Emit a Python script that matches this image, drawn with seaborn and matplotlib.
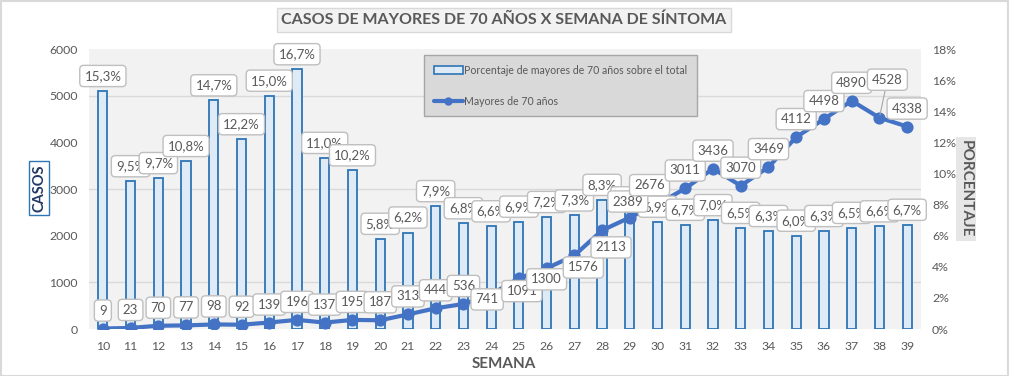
import numpy as np
import pandas as pd
import matplotlib
matplotlib.use("Agg")
import matplotlib.pyplot as plt
import seaborn as sns
from matplotlib.patches import Rectangle, Patch
from matplotlib.lines import Line2D
from matplotlib.ticker import MultipleLocator, FuncFormatter

# ---- data ----
weeks = list(range(10, 40))
cases = [9, 23, 70, 77, 98, 92, 139, 196, 137, 195,
         187, 313, 444, 536, 741, 1091, 1300, 1576, 2113, 2389,
         2676, 3011, 3436, 3070, 3469, 4112, 4498, 4890, 4528, 4338]
pct = [15.3, 9.5, 9.7, 10.8, 14.7, 12.2, 15.0, 16.7, 11.0, 10.2,
       5.8, 6.2, 7.9, 6.8, 6.6, 6.9, 7.2, 7.3, 8.3, 7.5,
       6.9, 6.7, 7.0, 6.5, 6.3, 6.0, 6.3, 6.5, 6.6, 6.7]
left_ticks = [0, 1000, 2000, 3000, 4000, 5000, 6000]
right_ticks = [0, 2, 4, 6, 8, 10, 12, 14, 16, 18]

title = "CASOS DE MAYORES DE 70 AÑOS X SEMANA DE SÍNTOMA"
bar_name = "Porcentaje de mayores de 70 años sobre el total"
line_name = "Mayores de 70 años"

df = pd.DataFrame({"semana": [str(w) for w in weeks], "casos": cases, "pct": pct})

# label offsets (pixels) for the line labels
line_off = {14: (-4, -5), 15: (3, -13), 16: (0, -11), 17: (9, -12), 18: (9, -17),
            19: (-2, 16), 20: (-8, 19), 28: (8, 38)}

sns.set_theme(style="white")
plt.rcParams["font.family"] = ["Lato", "DejaVu Sans"]

W, H = 1009, 376
fig = plt.figure(figsize=(W / 100, H / 100), dpi=100)
fig.patch.set_facecolor("white")
fig.add_artist(Rectangle((0.5 / W, 0.5 / H), 1 - 1.5 / W, 1 - 1.5 / H, transform=fig.transFigure,
                         fill=False, edgecolor="#D9D9D9", linewidth=1.5))

x0, x1, yt, yb = 89, 921, 49, 329
ax = fig.add_axes([x0 / W, 1 - yb / H, (x1 - x0) / W, (yb - yt) / H])
ax2 = ax.twinx()

BLUE = "#4472C4"
TXT = "#595959"

# bars (percent axis)
sns.barplot(data=df, x="semana", y="pct", ax=ax2, width=0.33, color="#DEEBF7",
            edgecolor="#2E75B6", linewidth=1.3, saturation=1, zorder=2)
# line (cases axis)
sns.pointplot(data=df, x="semana", y="casos", ax=ax, color=BLUE, markers="o",
              linewidth=3, markersize=6.5, zorder=3)

ax.set_zorder(ax2.get_zorder() + 1)
ax.patch.set_visible(False)
ax2.patch.set_visible(True)
ax2.patch.set_facecolor("#F2F2F2")

ax.set_xlim(-0.5, len(weeks) - 0.5)
ax.set_ylim(0, 6000)
ax2.set_ylim(0, 18)
ax.set_yticks(left_ticks)
ax2.set_yticks(right_ticks)
ax2.yaxis.set_major_formatter(FuncFormatter(lambda v, p: f"{v:.0f}%"))
ax2.yaxis.set_minor_locator(MultipleLocator(3))
ax2.grid(which="minor", axis="y", color="#D9D9D9", linewidth=1)
ax2.grid(which="major", visible=False)
ax.grid(False)
ax2.set_axisbelow(True)

for a in (ax, ax2):
    for s in a.spines.values():
        s.set_visible(False)
    a.set_xlabel("")
    a.set_ylabel("")
    a.tick_params(length=0, which="both", labelsize=8.8, colors=TXT)
ax.tick_params(axis="x", pad=9)
ax.tick_params(axis="y", pad=8)
ax2.tick_params(axis="y", pad=8)

bbox_kw = dict(boxstyle="round,pad=0.35,rounding_size=0.3", facecolor="white",
               edgecolor="#BFBFBF", linewidth=1)

# bar labels (drawn in the top axes so they sit above the line)
for i, v in enumerate(pct):
    ax.annotate(f"{v:.1f}%".replace(".", ","), (i, v), xycoords=ax2.transData,
                xytext=(0, 15), textcoords="offset pixels", ha="center", va="center",
                fontsize=9.5, color=TXT, bbox=bbox_kw, zorder=5)

# line labels
for i, v in enumerate(cases):
    dx, dy = line_off.get(i, (0, 18))
    kw = {}
    if i == 28:
        kw = dict(arrowprops=dict(arrowstyle="-", color="#A6A6A6", lw=0.8,
                                  shrinkA=0, shrinkB=2))
    ax.annotate(f"{v}", (i, v), xytext=(dx, dy), textcoords="offset pixels",
                ha="center", va="center", fontsize=9.5, color=TXT,
                bbox=bbox_kw, zorder=6, **kw)

# legend
handles = [Patch(facecolor="#DEEBF7", edgecolor="#2E75B6", linewidth=1.2),
           Line2D([0], [0], color=BLUE, linewidth=3, marker="o", markersize=5)]
leg = ax.legend(handles, [bar_name, line_name], loc="upper left",
                bbox_to_anchor=((424 - x0) / (x1 - x0), (yb - 55) / (yb - yt)),
                frameon=True, fancybox=False, facecolor="#D9D9D9", edgecolor="#A6A6A6",
                fontsize=7.6, labelspacing=1.9, handlelength=2.8, handletextpad=0.1,
                borderpad=0.9, borderaxespad=0, framealpha=1, labelcolor=TXT)
leg.get_frame().set_linewidth(1)
leg.set_zorder(10)

# title and axis titles
fig.text(504 / W, 1 - 20 / H, title, ha="center", va="center", fontsize=11.5,
         fontweight="bold", color=TXT,
         bbox=dict(boxstyle="square,pad=0.3", facecolor="#F2F2F2", edgecolor="#D9D9D9"))
fig.text(504 / W, 1 - 364 / H, "SEMANA", ha="center", va="center", fontsize=11,
         fontweight="bold", color=TXT)
fig.text(39 / W, 1 - 188 / H, "CASOS", ha="center", va="center", rotation=90,
         fontsize=10.5, fontweight="bold", color="#203864",
         bbox=dict(boxstyle="square,pad=0.2", facecolor="white", edgecolor="#2E75B6"))
fig.text(966 / W, 1 - 189 / H, "PORCENTAJE", ha="center", va="center", rotation=270,
         fontsize=11, fontweight="bold", color=TXT,
         bbox=dict(boxstyle="square,pad=0.2", facecolor="#E7E6E6", edgecolor="none"))

fig.savefig("out.png", dpi=100)
